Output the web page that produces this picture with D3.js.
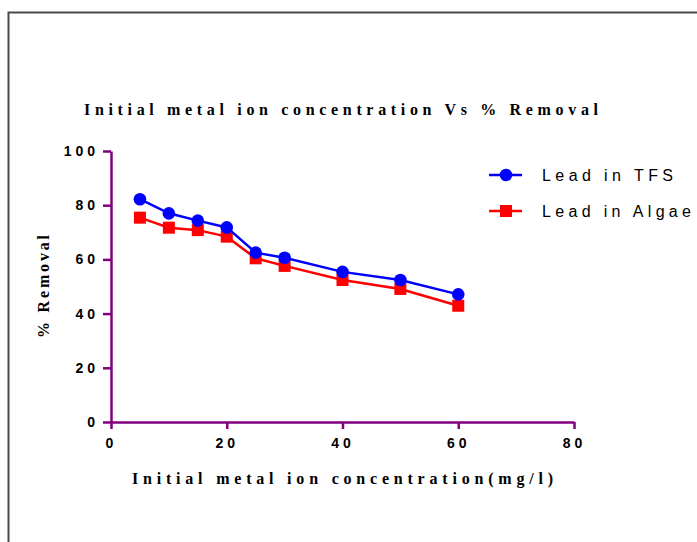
<!DOCTYPE html>
<html>
<head>
<meta charset="utf-8">
<script src="https://cdn.jsdelivr.net/npm/d3@7"></script>
<style>
body { margin: 0; background: #fff; }
</style>
</head>
<body>
<script>
// data
var concentration = [5, 10, 15, 20, 25, 30, 40, 50, 60];
var leadTFS = [82.2, 77.0, 74.3, 71.8, 62.5, 60.6, 55.4, 52.4, 47.1];
var leadAlgae = [75.4, 71.7, 70.8, 68.4, 60.4, 57.6, 52.4, 49.1, 42.9];
var xTicks = [0, 20, 40, 60, 80];
var yTicks = [0, 20, 40, 60, 80, 100];
var seriesNames = ["Lead in TFS", "Lead in Algae"];

var W = 697, H = 542;
var axisColor = "#800080";
var serif = "Liberation Serif, Times New Roman, serif";
var sans = "Liberation Sans, Arial, sans-serif";
var svg = d3.select("body").append("svg").attr("width", W).attr("height", H);

// frame
svg.append("path").attr("d", "M 8.5," + H + " L 8.5,12.5 L " + W + ",12.5")
	.attr("stroke", "#4a4a4a").attr("stroke-width", 2).attr("fill", "none");

var x = d3.scaleLinear().domain([0, 80]).range([111, 574]);
var y = d3.scaleLinear().domain([0, 100]).range([422, 151]);

// axes
var gx = svg.append("g").attr("transform", "translate(0,422)")
	.call(d3.axisBottom(x).tickValues(xTicks).tickSize(7).tickPadding(9).tickSizeOuter(0));
var gy = svg.append("g").attr("transform", "translate(111,0)")
	.call(d3.axisLeft(y).tickValues(yTicks).tickSize(8).tickPadding(4).tickSizeOuter(0));
[gx, gy].forEach(function(g) {
	g.select(".domain").attr("stroke", axisColor).attr("stroke-width", 2.5);
	g.selectAll(".tick line").attr("stroke", axisColor).attr("stroke-width", 2.5);
	g.selectAll(".tick text").attr("fill", "#000").attr("font-family", sans)
		.attr("font-weight", "bold").attr("font-size", 14).attr("letter-spacing", "4px");
});
gx.selectAll(".tick text").attr("dx", "0px");

// titles
svg.append("text").attr("x", 84).attr("y", 115)
	.attr("font-family", serif).attr("font-weight", "bold").attr("font-size", 16)
	.attr("textLength", 514).attr("lengthAdjust", "spacing")
	.text("Initial metal ion concentration Vs % Removal");
svg.append("text").attr("x", 132).attr("y", 484)
	.attr("font-family", serif).attr("font-weight", "bold").attr("font-size", 16)
	.attr("textLength", 421).attr("lengthAdjust", "spacing")
	.text("Initial metal ion concentration(mg/l)");
svg.append("text").attr("transform", "translate(49,338) rotate(-90)")
	.attr("font-family", serif).attr("font-weight", "bold").attr("font-size", 16)
	.attr("textLength", 103).attr("lengthAdjust", "spacing")
	.text("% Removal");

var line = d3.line().x(function(d) { return x(d[0]); }).y(function(d) { return y(d[1]); });
var tfs = concentration.map(function(c, i) { return [c, leadTFS[i]]; });
var alg = concentration.map(function(c, i) { return [c, leadAlgae[i]]; });

svg.append("path").datum(alg).attr("d", line).attr("stroke", "#ff0000").attr("stroke-width", 2.5).attr("fill", "none");
svg.selectAll(".sq").data(alg).enter().append("rect")
	.attr("x", function(d) { return x(d[0]) - 6; }).attr("y", function(d) { return y(d[1]) - 6; })
	.attr("width", 12).attr("height", 12).attr("fill", "#ff0000");

svg.append("path").datum(tfs).attr("d", line).attr("stroke", "#0000ff").attr("stroke-width", 2.5).attr("fill", "none");
svg.selectAll(".ci").data(tfs).enter().append("circle")
	.attr("cx", function(d) { return x(d[0]); }).attr("cy", function(d) { return y(d[1]); })
	.attr("r", 6.3).attr("fill", "#0000ff");

// legend
var legendY = [175, 211];
var legendLen = [131, 149];
var colors = ["#0000ff", "#ff0000"];
seriesNames.forEach(function(name, i) {
	var g = svg.append("g");
	g.append("path").attr("d", "M 489," + legendY[i] + " L 522," + legendY[i])
		.attr("stroke", colors[i]).attr("stroke-width", 2.5);
	if (i == 0) {
		g.append("circle").attr("cx", 506).attr("cy", legendY[i]).attr("r", 6.3).attr("fill", colors[i]);
	} else {
		g.append("rect").attr("x", 500).attr("y", legendY[i] - 6).attr("width", 12).attr("height", 12).attr("fill", colors[i]);
	}
	g.append("text").attr("x", 542).attr("y", legendY[i] + 6).attr("font-family", sans)
		.attr("font-size", 16).attr("textLength", legendLen[i]).attr("lengthAdjust", "spacing").text(name);
});
</script>
</body>
</html>
